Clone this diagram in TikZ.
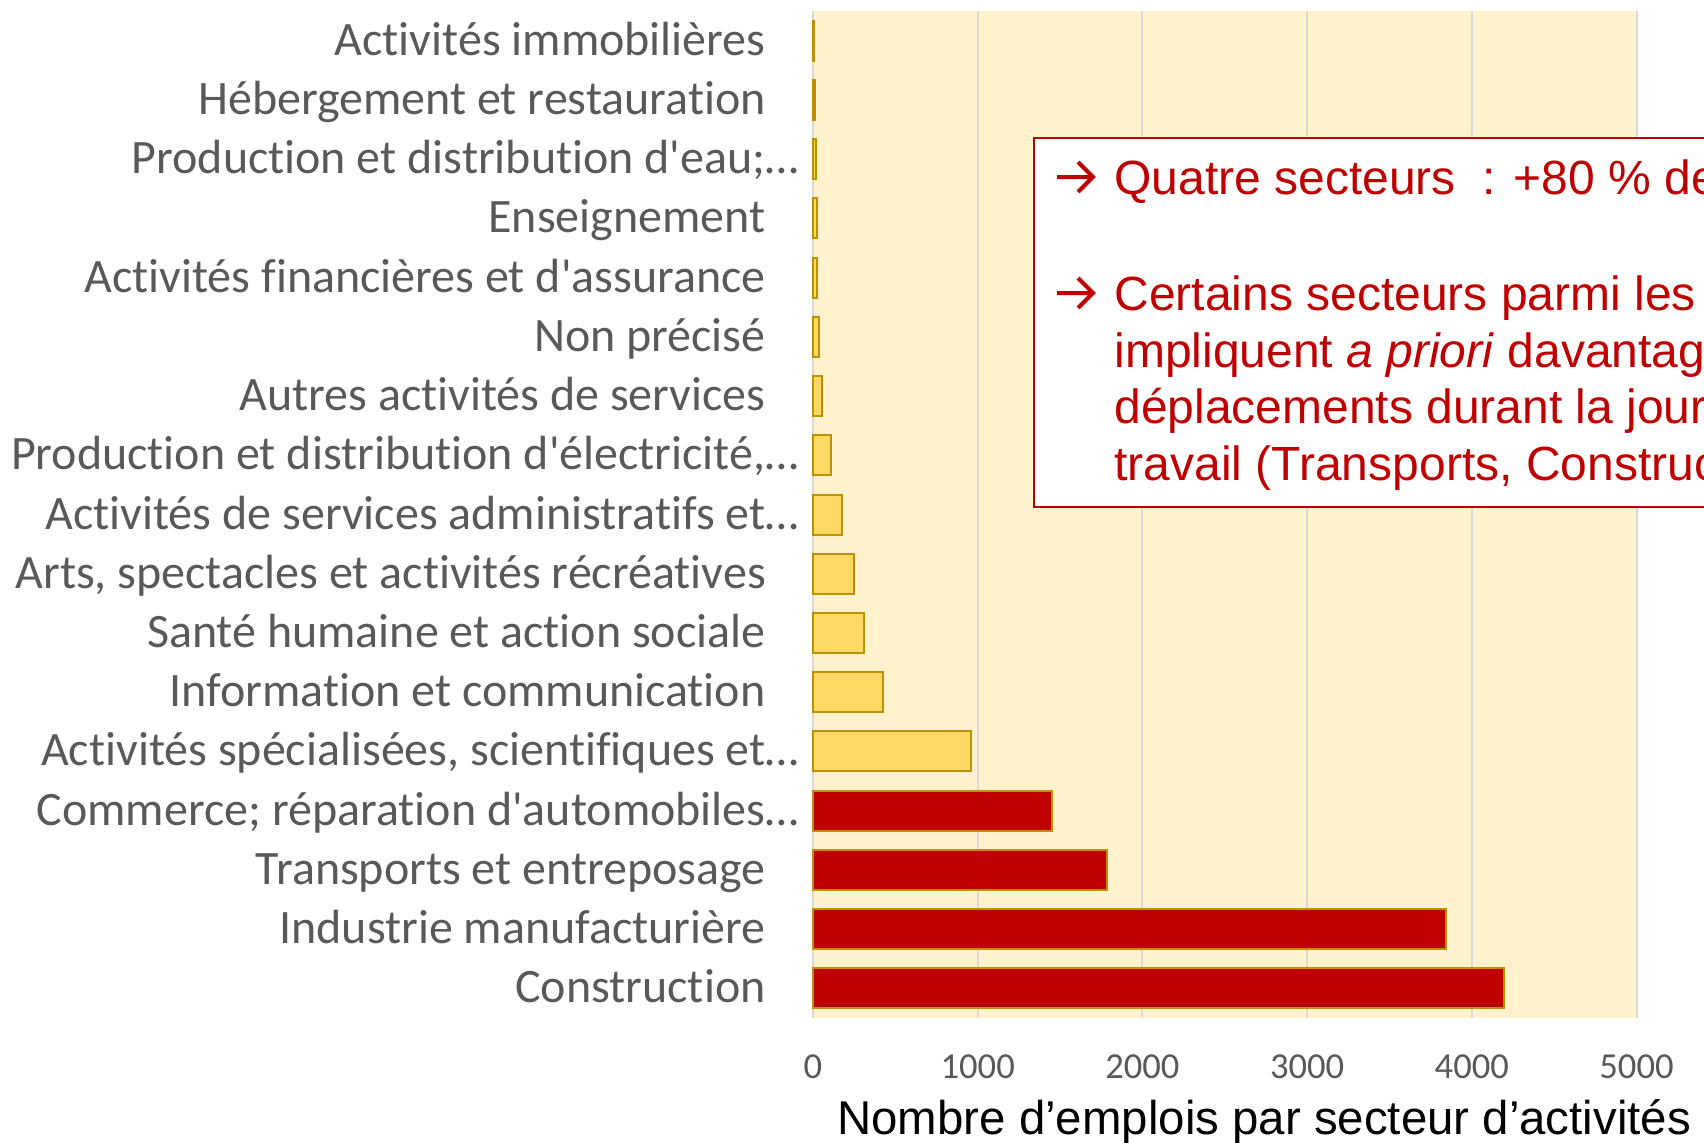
\documentclass[tikz,border=0pt]{standalone}
\usepackage{fontspec}
\setmainfont{Liberation Sans}
\newfontfamily\catfont[Ligatures=NoCommon]{Carlito}

\definecolor{lowbar}{HTML}{FFD966}
\definecolor{highbar}{HTML}{C00000}
\definecolor{baredge}{HTML}{BF9000}
\definecolor{plotbg}{HTML}{FFF2CC}
\definecolor{gridgray}{HTML}{D9D9D9}
\definecolor{labgray}{HTML}{595959}

\tikzset{
  catlabel/.style={font=\catfont\fontsize{24}{29}\selectfont,text=labgray,anchor=base east,inner sep=0pt},
  ticklabel/.style={font=\catfont\fontsize{18.3}{22}\selectfont,text=labgray,anchor=base,inner sep=0pt},
  notetext/.style={font=\fontsize{24}{28}\selectfont,text=highbar,anchor=base west,inner sep=0pt},
  notearrow/.style={draw=highbar,line width=2pt,line join=miter},
  barbox/.style={draw=baredge,line width=1pt}
}

\begin{document}
\begin{tikzpicture}[x=0.5pt,y=-0.5pt]
\useasboundingbox (0,0) rectangle (1704,1142);
% plot area and grid
\fill[plotbg] (813,11) rectangle (1637,1018);
\foreach[evaluate={int(\t*1000)} as \tv] \t in {0,...,5} {
  \draw[gridgray,line width=1pt] (813+\t*164.7,11) -- (813+\t*164.7,1018);
  \node[ticklabel] (tick\t) at (813+\t*164.7,1078.5) {\tv};
}
% bars, top to bottom
\foreach[count=\i,evaluate={40.6+(\i-1)*59.24} as \py] \v/\lab/\col in {
    3/{Activités immobilières}/lowbar,
    15/{Hébergement et restauration}/lowbar,
    20/{Production et distribution d\textquotesingle eau;\rlap{…}}/lowbar,
    27/{Enseignement}/lowbar,
    27/{Activités financières et d\textquotesingle assurance}/lowbar,
    38/{Non précisé}/lowbar,
    57/{Autres activités de services}/lowbar,
    110/{Production et distribution d\textquotesingle électricité,\rlap{…}}/lowbar,
    178/{Activités de services administratifs et\rlap{…}}/lowbar,
    250/{Arts, spectacles et activités récréatives}/lowbar,
    310/{Santé humaine et action sociale}/lowbar,
    425/{Information et communication}/lowbar,
    962/{Activités spécialisées, scientifiques et\rlap{…}}/lowbar,
    1451/{Commerce; réparation d\textquotesingle automobiles\rlap{…}}/highbar,
    1785/{Transports et entreposage}/highbar,
    3843/{Industrie manufacturière}/highbar,
    4193/{Construction}/highbar} {
  \filldraw[barbox,fill=\col] (813,\py-20) rectangle (813+\v*0.1647,\py+20);
  \node[catlabel] (cat\i) at (766,\py+14.5) {\lab};
}
\node[font=\fontsize{23.7}{28}\selectfont,anchor=base west,inner sep=0pt] (xtitle) at (837,1134) {Nombre d’emplois par secteur d’activités};
% note box, cut by the right edge
\begin{scope}
\clip (0,0) rectangle (1704,1142);
\draw[highbar,line width=1pt,fill=white] (1034,138) rectangle (1730,507);
\foreach \ay in {177,293}
  \draw[notearrow] (1057,\ay) -- (1093,\ay) (1078,\ay-15) -- (1093,\ay) -- (1078,\ay+15);
\node[notetext] (noteA) at (1114,194) {Quatre secteurs\ \ : +80 \% de};
\node[notetext] (noteB) at (1114,310) {Certains secteurs parmi les};
\node[notetext] (noteC) at (1114,367) {impliquent \textit{a priori} davantag};
\node[notetext] (noteD) at (1114,423) {déplacements durant la jour};
\node[notetext] (noteE) at (1114,480) {travail (Transports, Construc};
\end{scope}
\end{tikzpicture}
\end{document}
